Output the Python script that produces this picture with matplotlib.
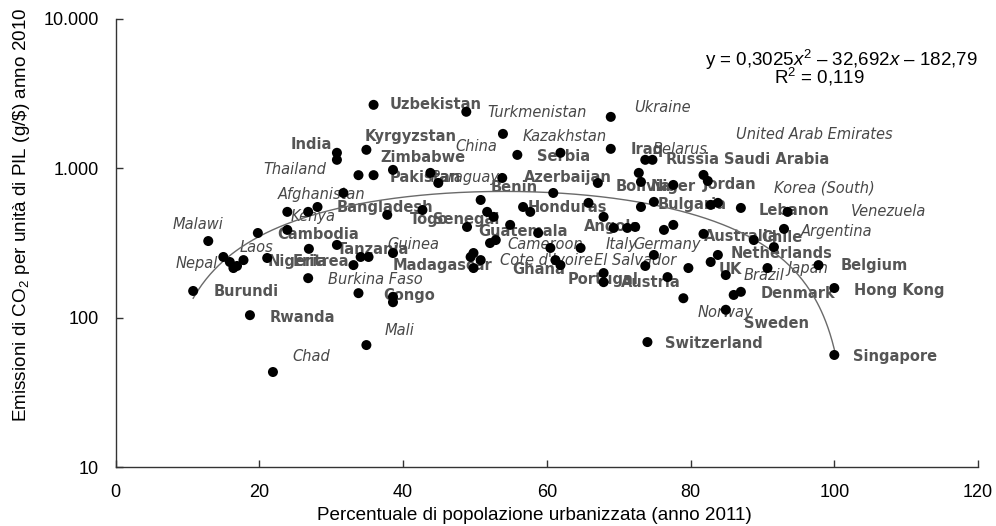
import matplotlib
matplotlib.use('Agg')
import matplotlib.pyplot as plt
import numpy as np

plt.rcParams['font.family'] = ['Liberation Sans', 'DejaVu Sans']
plt.rcParams['mathtext.fontset'] = 'custom'
plt.rcParams['mathtext.rm'] = 'Liberation Sans'
plt.rcParams['mathtext.it'] = 'Liberation Sans:italic'

# urban population share (%) and CO2 per unit of GDP (g/$)
urban = [35.9, 48.8, 68.9, 53.9, 30.8, 30.8, 34.9, 55.9, 61.9, 68.9, 73.7, 74.7,
         33.8, 35.9, 38.6, 43.8, 44.9, 53.8, 67.1, 72.8, 73.1, 81.8, 82.4, 77.6,
         31.7, 60.9, 50.8,
         28.1, 26.8, 23.9, 37.8, 42.7, 48.9, 51.7, 52.6, 56.7, 57.7, 65.8, 67.9,
         73.1, 74.9, 82.8, 83.8, 87.0, 93.5, 54.9, 69.3, 71.2, 72.3, 76.3, 77.6,
         81.8, 88.8, 91.6, 93.0, 19.8, 23.9, 12.9, 58.8, 52.9, 52.1,
         15.0, 15.9, 16.9, 17.8, 16.4, 21.1, 26.9, 30.8, 33.1, 34.1, 35.2, 38.6,
         49.8, 49.4, 50.8, 49.8, 60.5, 64.7, 61.2, 61.9, 74.9, 73.7, 79.7, 82.8,
         83.8, 84.9, 90.7, 97.8, 67.9, 67.9, 76.8, 79.0, 86.0, 87.0, 100.0,
         26.8, 33.8, 38.6, 38.6, 10.8,
         18.7, 84.9, 74.0, 34.9, 21.9, 100.0]
co2 = [2660, 2390, 2210, 1700, 1270, 1140, 1330, 1230, 1270, 1350, 1140, 1140,
       900, 900, 976, 932, 798, 862, 798, 932, 811, 903, 823, 774,
       684, 684, 614,
       551, 511, 511, 488, 526, 405, 511, 473, 551, 511, 587, 473,
       551, 596, 569, 587, 543, 511, 418, 399, 399, 405, 387, 418,
       364, 331, 297, 393, 369, 387, 326, 369, 331, 316,
       255, 236, 222, 243, 215, 251, 289, 307, 225, 255, 255, 271,
       271, 255, 243, 215, 293, 293, 243, 225, 263, 222, 215, 236,
       263, 193, 215, 225, 199, 173, 187, 135, 142, 149, 158,
       184, 146, 138, 127, 151,
       104, 113, 68.7, 65.6, 43.3, 56.3]

# polynomial trendline shown in the chart: y = a x^2 + b x + c
trend_coef = [-0.3025, 32.692, -182.79]

# country labels: name, x, y, style (b = bold, i = italic)
labels = [
    ('Uzbekistan', 38.2, 2660, 'b'), ('Turkmenistan', 51.7, 2350, 'i'),
    ('Ukraine', 72.1, 2539, 'i'), ('Kazakhstan', 56.6, 1623, 'i'),
    ('India', 24.3, 1435, 'b'), ('Kyrgyzstan', 34.7, 1623, 'b'),
    ('China', 47.3, 1391, 'i'), ('Serbia', 58.7, 1192, 'b'),
    ('Iraq', 71.7, 1328, 'b'), ('Belarus', 74.7, 1328, 'i'),
    ('Russia', 76.5, 1138, 'b'), ('Saudi Arabia', 84.6, 1138, 'b'),
    ('United Arab Emirates', 86.3, 1674, 'i'), ('Zimbabwe', 36.8, 1174, 'b'),
    ('Thailand', 20.5, 976, 'i'), ('Pakistan', 38.2, 862, 'b'),
    ('Paraguay', 43.8, 862, 'i'), ('Azerbaijan', 56.8, 862, 'b'),
    ('Benin', 52.2, 739, 'b'), ('Bolivia', 69.6, 751, 'b'),
    ('Niger', 74.4, 751, 'b'), ('Jordan', 81.7, 774, 'b'),
    ('Korea (South)', 91.6, 739, 'i'), ('Afghanistan', 22.6, 663, 'i'),
    ('Bangladesh', 30.8, 543, 'b'), ('Kenya', 24.3, 473, 'i'),
    ('Togo', 41.0, 451, 'b'), ('Senegal', 44.1, 451, 'b'),
    ('Honduras', 57.3, 543, 'b'), ('Bulgaria', 75.4, 569, 'b'),
    ('Lebanon', 89.5, 526, 'b'), ('Venezuela', 102.3, 511, 'i'),
    ('Angola', 65.1, 405, 'b'), ('Argentina', 95.3, 375, 'i'),
    ('Malawi', 8.0, 418, 'i'), ('Cambodia', 22.5, 358, 'b'),
    ('Laos', 17.3, 297, 'i'), ('Nepal', 8.3, 232, 'i'),
    ('Nigeria', 21.2, 236, 'b'), ('Eritrea', 24.6, 236, 'b'),
    ('Tanzania', 30.8, 284, 'b'), ('Guinea', 37.8, 307, 'i'),
    ('Madagascar', 38.6, 225, 'b'), ('Guatemala', 50.5, 375, 'b'),
    ('Cameroon', 54.5, 307, 'i'), ("Cote d'Ivoire", 53.5, 243, 'i'),
    ('Ghana', 55.2, 209, 'b'), ('Italy', 68.2, 307, 'i'),
    ('Germany', 72.1, 307, 'i'), ('El Salvador', 66.5, 243, 'i'),
    ('Portugal', 62.9, 179, 'b'), ('Austria', 70.3, 173, 'b'),
    ('Australia', 81.8, 347, 'b'), ('Chile', 89.8, 342, 'b'),
    ('Netherlands', 85.6, 271, 'b'), ('UK', 83.9, 209, 'b'),
    ('Brazil', 87.4, 193, 'i'), ('Japan', 93.5, 215, 'i'),
    ('Belgium', 100.9, 225, 'b'), ('Hong Kong', 102.7, 153, 'b'),
    ('Denmark', 89.8, 146, 'b'), ('Norway', 81.0, 109, 'i'),
    ('Sweden', 87.4, 92.1, 'b'), ('Switzerland', 76.5, 67.7, 'b'),
    ('Singapore', 102.6, 54.6, 'b'), ('Burundi', 13.6, 149, 'b'),
    ('Rwanda', 21.5, 101, 'b'), ('Chad', 24.6, 54.6, 'i'),
    ('Mali', 37.5, 82.7, 'i'), ('Burkina Faso', 29.6, 179, 'i'),
    ('Congo', 37.3, 140, 'b'),
]

fig = plt.figure(figsize=(9.96, 5.26), dpi=100)
ax = fig.add_axes([0.116, 0.112, 0.866, 0.852])

# trendline
xt = np.linspace(min(urban), max(urban), 300)
yt = np.polyval(trend_coef, xt)
ax.plot(xt, yt, color='#6a6a6a', lw=1.0, zorder=2.5)

ax.scatter(urban, co2, s=52, color='black', edgecolors='none', zorder=3)

for name, lx, ly, st in labels:
    if st == 'b':
        ax.text(lx, ly, name, fontsize=10.5, fontweight='bold', color='#555555',
                ha='left', va='center', family='DejaVu Sans', zorder=2)
    else:
        ax.text(lx, ly, name, fontsize=10.5, fontstyle='italic', color='#484848',
                ha='left', va='center', family='DejaVu Sans', zorder=2)

ax.set_yscale('log')
ax.set_xlim(0, 120)
ax.set_ylim(10, 10000)
ax.set_xticks([0, 20, 40, 60, 80, 100, 120])
ax.set_yticks([10, 100, 1000, 10000])
ax.set_yticklabels(['10', '100', '1.000', '10.000'])
ax.yaxis.set_minor_locator(matplotlib.ticker.NullLocator())
ax.tick_params(axis='both', direction='in', length=5, width=1, labelsize=13,
               color='#333333')
ax.tick_params(axis='x', pad=12)
ax.tick_params(axis='y', pad=12)

for s in ['top', 'right']:
    ax.spines[s].set_visible(False)
for s in ['left', 'bottom']:
    ax.spines[s].set_color('#333333')
    ax.spines[s].set_linewidth(1.0)

ax.set_xlabel('Percentuale di popolazione urbanizzata (anno 2011)', fontsize=13.6)
ax.xaxis.set_label_coords(0.486, -0.09)
ax.set_ylabel(r'Emissioni di CO$_2$ per unità di PIL (g/\$) anno 2010', fontsize=13.6)
ax.yaxis.set_label_coords(-0.097, 0.5625)

fig.text(0.982, 0.886, r'y = 0,3025$x^2$ – 32,692$x$ – 182,79', fontsize=13.5,
         ha='right', va='center')
fig.text(0.823, 0.854, r'R$^2$ = 0,119', fontsize=13.5, ha='center', va='center')

fig.savefig('out.png', dpi=100)
